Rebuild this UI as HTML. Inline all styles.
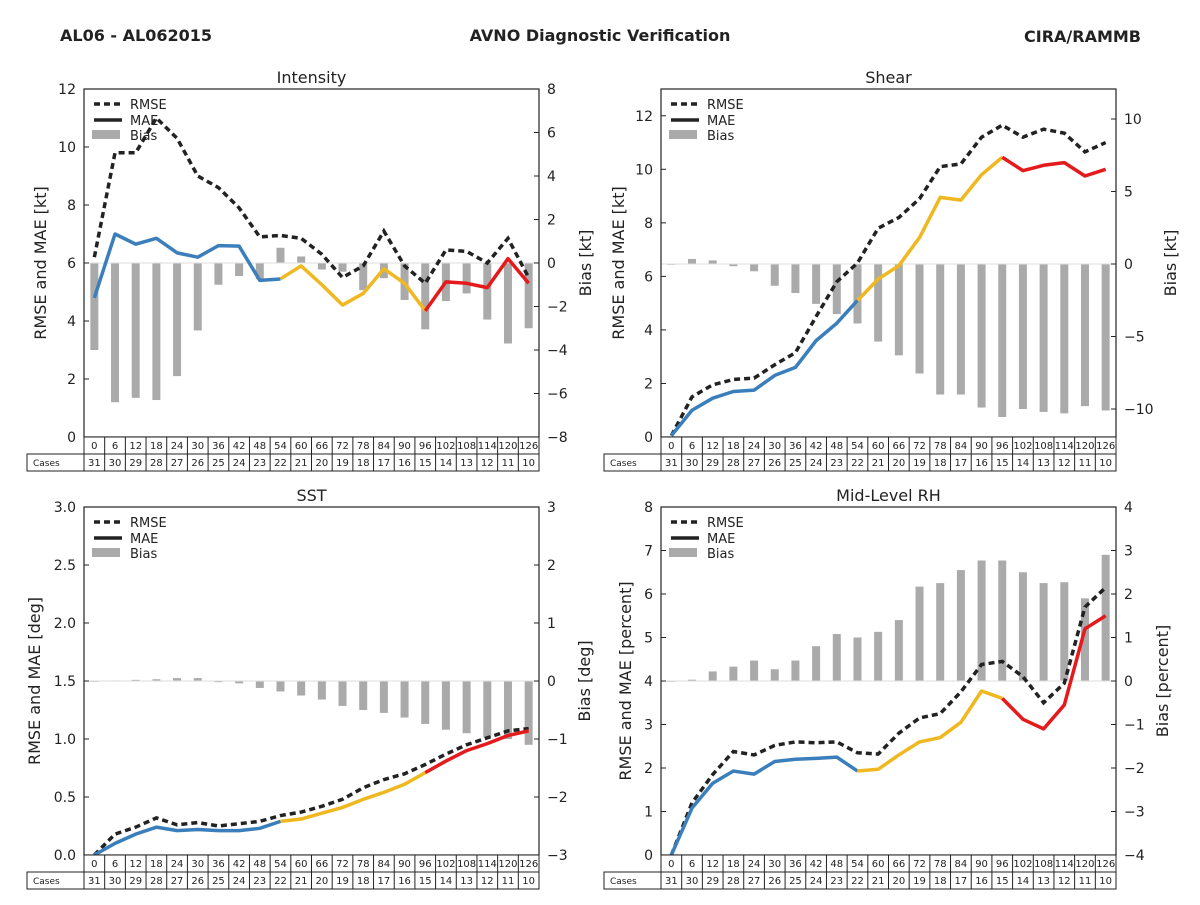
<!DOCTYPE html>
<html><head><meta charset="utf-8"><style>
body{margin:0;background:#fff;}
svg{font-family:"DejaVu Sans","Liberation Sans",sans-serif;}
</style></head><body>
<svg id="c" width="1200" height="900" xmlns="http://www.w3.org/2000/svg">
<text x="60" y="41" font-size="16" font-weight="bold" fill="#222">AL06 - AL062015</text>
<text x="600" y="41" font-size="16" font-weight="bold" fill="#222" text-anchor="middle">AVNO Diagnostic Verification</text>
<text x="1141" y="42" font-size="16" font-weight="bold" fill="#222" text-anchor="end">CIRA/RAMMB</text>
</svg>
<script>
const hours=[0,6,12,18,24,30,36,42,48,54,60,66,72,78,84,90,96,102,108,114,120,126];
const cases=[31,30,29,28,27,26,25,24,23,22,21,20,19,18,17,16,15,14,13,12,11,10];
const intRmse=[6.2,9.8,9.8,11.0,10.3,9.0,8.6,7.9,6.9,6.95,6.85,6.3,5.5,5.9,7.1,5.9,5.3,6.45,6.4,6.0,6.85,5.5];
const intMae=[4.8,7.0,6.65,6.85,6.35,6.2,6.6,6.58,5.4,5.45,5.9,5.25,4.55,4.95,5.8,5.3,4.35,5.35,5.3,5.15,6.15,5.3];
const intBias=[-4.0,-6.4,-6.2,-6.3,-5.2,-3.1,-1.0,-0.6,-0.75,0.7,0.3,-0.3,-0.4,-1.25,-0.7,-1.7,-3.05,-1.75,-1.4,-2.6,-3.7,-3.0];
const shrRmse=[0.05,1.5,1.95,2.15,2.2,2.7,3.15,4.5,5.8,6.5,7.8,8.2,8.9,10.1,10.2,11.2,11.65,11.2,11.5,11.35,10.65,11.0];
const shrMae=[0.05,1.0,1.45,1.7,1.75,2.3,2.6,3.6,4.25,5.1,5.9,6.4,7.45,8.95,8.85,9.8,10.45,9.95,10.15,10.25,9.75,10.0];
const shrBias=[0,0.35,0.25,-0.15,-0.5,-1.5,-2.0,-2.75,-3.45,-4.1,-5.35,-6.3,-7.55,-9.0,-9.0,-9.9,-10.55,-10.0,-10.2,-10.3,-9.8,-10.1];
const sstRmse=[0.0,0.18,0.24,0.32,0.26,0.28,0.25,0.27,0.29,0.34,0.37,0.42,0.48,0.58,0.65,0.70,0.78,0.87,0.95,1.01,1.07,1.09];
const sstMae=[0.0,0.1,0.18,0.24,0.21,0.22,0.21,0.21,0.23,0.29,0.31,0.36,0.41,0.48,0.54,0.61,0.71,0.81,0.9,0.96,1.03,1.07];
const sstBias=[0,0.01,0.02,0.03,0.05,0.05,-0.02,-0.04,-0.12,-0.18,-0.25,-0.32,-0.43,-0.5,-0.55,-0.63,-0.74,-0.84,-0.9,-0.97,-1.0,-1.1];
const rhRmse=[0.0,1.2,1.85,2.38,2.3,2.52,2.6,2.58,2.6,2.35,2.32,2.8,3.15,3.25,3.75,4.38,4.45,4.1,3.5,3.95,5.7,6.15];
const rhMae=[0.0,1.08,1.65,1.93,1.86,2.15,2.2,2.22,2.25,1.93,1.97,2.3,2.6,2.7,3.05,3.77,3.6,3.12,2.9,3.45,5.2,5.5];
const rhBias=[0,0.03,0.22,0.33,0.47,0.27,0.47,0.8,1.08,1.0,1.13,1.4,2.17,2.25,2.55,2.77,2.77,2.5,2.25,2.27,1.9,2.9];
const NS='http://www.w3.org/2000/svg';
const svg=document.getElementById('c');
function mk(tag,attrs,parent,text){const e=document.createElementNS(NS,tag);for(const k in attrs)e.setAttribute(k,attrs[k]);if(text!==undefined)e.textContent=text;(parent||svg).appendChild(e);return e;}
function panel(p){
 const g=mk('g',{});
 
 
 const X0=p.x,X1=p.x+455,Y0=p.y,Y1=p.y+348,cw=455/hours.length;
 const xs=i=>X0+(i+0.5)*cw;
 const yl=v=>Y1-(v-p.l0)/(p.l1-p.l0)*348;
 const yr=v=>Y1-(v-p.r0)/(p.r1-p.r0)*348;
 const t=mk('text',{x:(X0+X1)/2,y:Y0-6,'font-size':16,'text-anchor':'middle',fill:'#222'},g,p.title);
 
 
 // bars
 p.bias.forEach((v,i)=>{const a=yr(0),b=yr(v);const r=mk('rect',{x:xs(i)-4,y:Math.min(a,b),width:8,height:Math.max(Math.abs(a-b),0.8),fill:'#aaaaaa'},g);
  
  });
 mk('line',{x1:X0,x2:X1,y1:yr(0),y2:yr(0),stroke:'#ddd','stroke-width':1},g);
 // rmse
 const rp=p.rmse.map((v,i)=>xs(i)+','+yl(v)).join(' ');
 const rl=mk('polyline',{points:rp,fill:'none',stroke:'#222','stroke-width':3.5,'stroke-dasharray':'6,4'},g);
 
 
 const segs=[[0,9,'#3a7fbb'],[9,16,'#f0b820'],[16,21,'#e41a1c']];
 segs.forEach(([a,b,c])=>{const pts=[];for(let i=a;i<=b;i++)pts.push(xs(i)+','+yl(p.mae[i]));
  const l=mk('polyline',{points:pts.join(' '),fill:'none',stroke:c,'stroke-width':3.5,'stroke-linejoin':'round'},g);
  
  });
 mk('rect',{x:X0,y:Y0,width:455,height:348,fill:'none',stroke:'#222','stroke-width':1.2},g);
 // ticks
 p.lt.forEach(v=>{const y=yl(v);mk('line',{x1:X0,x2:X0+5,y1:y,y2:y,stroke:'#222'},g);mk('line',{x1:X1,x2:X1-5,y1:yl(v),y2:yl(v),stroke:'none'},g);
  mk('text',{x:X0-8,y:y+5,'font-size':14,'text-anchor':'end',fill:'#222'},g,p.lf(v));});
 p.rt.forEach(v=>{const y=yr(v);mk('line',{x1:X1,x2:X1-5,y1:y,y2:y,stroke:'#222'},g);
  mk('text',{x:X1+8,y:y+5,'font-size':14,fill:'#222'},g,p.rf(v));});
 const ll=mk('text',{transform:`translate(${p.llx},${(Y0+Y1)/2}) rotate(-90)`,'font-size':16,'text-anchor':'middle',fill:'#222'},g,p.ll);
 
 
 const rlb=mk('text',{transform:`translate(${p.rlx},${(Y0+Y1)/2}) rotate(-90)`,'font-size':16,'text-anchor':'middle',fill:'#222'},g,p.rl);
 
 
 // legend
 const lg=mk('g',{},g);
 
 
 mk('line',{x1:X0+10,x2:X0+38,y1:Y0+15,y2:Y0+15,stroke:'#222','stroke-width':3.5,'stroke-dasharray':'6,4'},lg);
 mk('text',{x:X0+46,y:Y0+20,'font-size':13,fill:'#222'},lg,'RMSE');
 mk('line',{x1:X0+10,x2:X0+38,y1:Y0+31,y2:Y0+31,stroke:'#222','stroke-width':3.5},lg);
 mk('text',{x:X0+46,y:Y0+36,'font-size':13,fill:'#222'},lg,'MAE');
 mk('rect',{x:X0+8,y:Y0+41,width:28,height:9,fill:'#aaaaaa'},lg);
 mk('text',{x:X0+46,y:Y0+51,'font-size':13,fill:'#222'},lg,'Bias');
 // table
 const tb=mk('g',{},g);
 
 
 mk('rect',{x:X0,y:Y1,width:455,height:17,fill:'#fff',stroke:'#222'},tb);
 mk('rect',{x:X0-57,y:Y1+17,width:512,height:17,fill:'#fff',stroke:'#222'},tb);
 mk('line',{x1:X0,x2:X0,y1:Y1+17,y2:Y1+34,stroke:'#222'},tb);
 mk('text',{x:X0-51,y:Y1+29,'font-size':9,fill:'#222'},tb,'Cases');
 hours.forEach((h,i)=>{const cx=X0+i*cw;
  if(i>0){mk('line',{x1:cx,x2:cx,y1:Y1,y2:Y1+34,stroke:'#222'},tb);}
  mk('text',{x:xs(i),y:Y1+12,'font-size':10,'text-anchor':'middle',fill:'#222'},tb,h);
  mk('text',{x:xs(i),y:Y1+29,'font-size':10,'text-anchor':'middle',fill:'#222'},tb,cases[i]);});
}
const f0=v=>String(v), f1=v=>v.toFixed(1), fm=v=>(v<0?'\u2212':'')+Math.abs(v);
panel({name:'intensity',title:'Intensity',x:84,y:89,l0:0,l1:12,r0:-8,r1:8,lt:[0,2,4,6,8,10,12],rt:[-8,-6,-4,-2,0,2,4,6,8],lf:f0,rf:fm,rmse:intRmse,mae:intMae,bias:intBias,ll:'RMSE and MAE [kt]',llx:46,rl:'Bias [kt]',rlx:591});
panel({name:'shear',title:'Shear',x:661,y:89,l0:0,l1:13,r0:-11.93,r1:12.07,lt:[0,2,4,6,8,10,12],rt:[-10,-5,0,5,10],lf:f0,rf:fm,rmse:shrRmse,mae:shrMae,bias:shrBias,ll:'RMSE and MAE [kt]',llx:624,rl:'Bias [kt]',rlx:1176});
panel({name:'sst',title:'SST',x:84,y:507,l0:0,l1:3,r0:-3,r1:3,lt:[0,0.5,1,1.5,2,2.5,3],rt:[-3,-2,-1,0,1,2,3],lf:f1,rf:fm,rmse:sstRmse,mae:sstMae,bias:sstBias,ll:'RMSE and MAE [deg]',llx:40,rl:'Bias [deg]',rlx:590});
panel({name:'mid-level-rh',title:'Mid-Level RH',x:661,y:507,l0:0,l1:8,r0:-4,r1:4,lt:[0,1,2,3,4,5,6,7,8],rt:[-4,-3,-2,-1,0,1,2,3,4],lf:f0,rf:fm,rmse:rhRmse,mae:rhMae,bias:rhBias,ll:'RMSE and MAE [percent]',llx:631,rl:'Bias [percent]',rlx:1168});
</script>
</body></html>
